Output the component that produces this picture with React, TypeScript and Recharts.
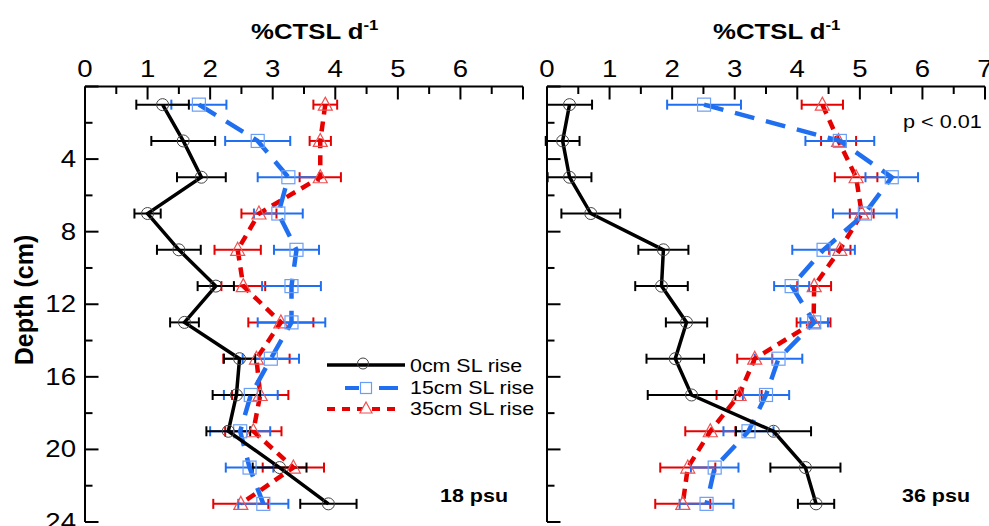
import React from "react";
import { ScatterChart, Scatter, XAxis, YAxis, ErrorBar } from "recharts";

// depth of each sample (cm), shared by both panels
const depths = [1, 3, 5, 7, 9, 11, 13, 15, 17, 19, 21, 23];

// 18 psu panel (%CTSL per day, mean and +/- error)
const s18_0cm = [1.24, 1.57, 1.86, 1.0, 1.5, 2.09, 1.59, 2.47, 2.42, 2.29, 3.11, 3.89];
const s18_0cmErr = [0.42, 0.51, 0.39, 0.21, 0.35, 0.29, 0.23, 0.25, 0.38, 0.35, 0.43, 0.45];
const s18_15cm = [1.82, 2.76, 3.25, 3.09, 3.38, 3.3, 3.3, 2.97, 2.65, 2.48, 2.63, 2.85];
const s18_15cmErr = [0.44, 0.52, 0.49, 0.39, 0.36, 0.47, 0.54, 0.45, 0.43, 0.48, 0.38, 0.4];
const s18_35cm = [3.84, 3.76, 3.76, 2.78, 2.44, 2.53, 3.13, 2.74, 2.8, 2.69, 3.33, 2.49];
const s18_35cmErr = [0.19, 0.17, 0.33, 0.28, 0.37, 0.35, 0.52, 0.53, 0.45, 0.45, 0.49, 0.44];

// 36 psu panel
const s36_0cm = [0.36, 0.25, 0.36, 0.7, 1.86, 1.83, 2.23, 2.05, 2.31, 3.62, 4.13, 4.3];
const s36_0cmErr = [0.36, 0.27, 0.35, 0.47, 0.4, 0.42, 0.33, 0.46, 0.7, 0.6, 0.56, 0.29];
const s36_15cm = [2.51, 4.68, 5.51, 5.08, 4.42, 3.91, 4.27, 3.7, 3.5, 3.22, 2.68, 2.55];
const s36_15cmErr = [0.59, 0.55, 0.42, 0.51, 0.5, 0.28, 0.22, 0.38, 0.37, 0.4, 0.38, 0.43];
const s36_35cm = [4.4, 4.66, 4.94, 5.03, 4.68, 4.27, 4.26, 3.32, 3.07, 2.61, 2.25, 2.17];
const s36_35cmErr = [0.33, 0.28, 0.34, 0.19, 0.17, 0.27, 0.27, 0.28, 0.36, 0.4, 0.44, 0.44];

const seriesNames = ["0cm SL rise", "15cm SL rise", "35cm SL rise"];
const xTicks = [0, 0.5, 1, 1.5, 2, 2.5, 3, 3.5, 4, 4.5, 5, 5.5, 6, 6.5, 7];
const yTicks = [0, 2, 4, 6, 8, 10, 12, 14, 16, 18, 20, 22, 24];

const FONT = "'Liberation Sans', Arial, Helvetica, sans-serif";
const BLUE = "#1f6ff0";
const RED = "#e60000";

const toPoints = (vals: number[], errs: number[]) =>
  vals.map((v, i) => ({ x: v, y: depths[i], err: errs[i] }));

// text drawn a little wider than the font, like the original figure
function SText({ x, y, size, anchor = "start", bold = false, sx = 1.15, children }: any) {
  return (
    <text
      transform={`translate(${x},${y}) scale(${sx},1)`}
      textAnchor={anchor}
      fontSize={size}
      fontWeight={bold ? "bold" : "normal"}
      fontFamily={FONT}
      fill="#000"
    >
      {children}
    </text>
  );
}

const makeXTick = (lastLabel: number) => (props: any) => {
  const { x, y, payload } = props;
  const v = payload.value as number;
  const major = Number.isInteger(v);
  return (
    <g>
      <line x1={x} y1={y} x2={x} y2={y + (major ? 13 : 7.5)} stroke="#000" strokeWidth={2} />
      {major && v <= lastLabel && (
        <SText x={x} y={y - 9.5} size={23} anchor="middle" sx={1.2}>
          {v}
        </SText>
      )}
    </g>
  );
};

const makeYTick = (labels: boolean) => (props: any) => {
  const { x, y, payload } = props;
  const v = payload.value as number;
  const major = v % 4 === 0;
  return (
    <g>
      <line x1={x} y1={y} x2={x + (major ? 13.5 : 7.5)} y2={y} stroke="#000" strokeWidth={2} />
      {labels && major && v > 0 && (
        <SText x={x - 9} y={y + 8} size={23} anchor="end" sx={1.2}>
          {v}
        </SText>
      )}
    </g>
  );
};

const circleShape = (p: any) => (
  <circle cx={p.cx} cy={p.cy} r={6} fill="none" stroke="#444" strokeWidth={1} />
);
const squareShape = (p: any) => (
  <rect x={p.cx - 6.5} y={p.cy - 6.5} width={13} height={13} fill="none" stroke="#6a9ef5" strokeWidth={1.2} />
);
const triangleShape = (p: any) => (
  <polygon
    points={`${p.cx},${p.cy - 7.5} ${p.cx + 7},${p.cy + 5.5} ${p.cx - 7},${p.cy + 5.5}`}
    fill="none"
    stroke="#f05050"
    strokeWidth={1.2}
  />
);

function Panel({ data0, data15, data35, margin, yLabels, lastXLabel }: any) {
  return (
    <div style={{ position: "absolute", left: 0, top: 0 }}>
      <ScatterChart width={989} height={526} margin={margin}>
        <XAxis
          type="number"
          dataKey="x"
          orientation="top"
          domain={[0, 7]}
          ticks={xTicks}
          interval={0}
          height={40}
          tickSize={0}
          tickMargin={0}
          tickLine={false}
          tick={makeXTick(lastXLabel)}
          axisLine={{ stroke: "#000", strokeWidth: 2 }}
          allowDataOverflow
        />
        <YAxis
          type="number"
          dataKey="y"
          domain={[0, 24]}
          reversed
          ticks={yTicks}
          interval={0}
          width={60}
          tickSize={0}
          tickMargin={0}
          tickLine={false}
          tick={makeYTick(yLabels)}
          axisLine={{ stroke: "#000", strokeWidth: 2 }}
          allowDataOverflow
        />
        <Scatter
          name={seriesNames[2]}
          data={data35}
          fill={RED}
          shape={triangleShape}
          line={{ stroke: RED, strokeWidth: 4.5, strokeDasharray: "10 7" }}
          isAnimationActive={false}
        >
          <ErrorBar dataKey="err" direction="x" width={5} stroke={RED} strokeWidth={2} />
        </Scatter>
        <Scatter
          name={seriesNames[1]}
          data={data15}
          fill={BLUE}
          shape={squareShape}
          line={{ stroke: BLUE, strokeWidth: 4.5, strokeDasharray: "20 12" }}
          isAnimationActive={false}
        >
          <ErrorBar dataKey="err" direction="x" width={5} stroke={BLUE} strokeWidth={2} />
        </Scatter>
        <Scatter
          name={seriesNames[0]}
          data={data0}
          fill="#000"
          shape={circleShape}
          line={{ stroke: "#000", strokeWidth: 3.5 }}
          isAnimationActive={false}
        >
          <ErrorBar dataKey="err" direction="x" width={5} stroke="#000" strokeWidth={2} />
        </Scatter>
      </ScatterChart>
    </div>
  );
}

function Overlay() {
  return (
    <svg
      width={989}
      height={526}
      style={{ position: "absolute", left: 0, top: 0, pointerEvents: "none" }}
    >
      {/* axis titles */}
      {[251, 713].map((x) => (
        <text key={x} transform={`translate(${x},38.5) scale(1.12,1)`} fontSize={23} fontWeight="bold" fontFamily={FONT}>
          %CTSL d
          <tspan dy={-9} fontSize={15}>-1</tspan>
        </text>
      ))}
      <text transform="translate(33,300) rotate(-90)" textAnchor="middle" fontSize={25} fontWeight="bold" fontFamily={FONT}>
        Depth (cm)
      </text>
      <SText x={903} y={128} size={19} sx={1.14}>p &lt; 0.01</SText>
      <SText x={440} y={502} size={19} bold sx={1.13}>18 psu</SText>
      <SText x={902} y={502} size={19} bold sx={1.13}>36 psu</SText>

      {/* legend */}
      <line x1={327} y1={365} x2={405} y2={365} stroke="#000" strokeWidth={3.5} />
      <circle cx={363} cy={363.5} r={5.5} fill="none" stroke="#444" strokeWidth={1} />
      <SText x={410} y={371.5} size={18} sx={1.19}>{seriesNames[0]}</SText>

      <line x1={345} y1={388} x2={359} y2={388} stroke={BLUE} strokeWidth={4} />
      <line x1={379} y1={388} x2={398} y2={388} stroke={BLUE} strokeWidth={4} />
      <rect x={360.5} y={382.5} width={11} height={11} fill="none" stroke="#6a9ef5" strokeWidth={1.2} />
      <SText x={410} y={393.5} size={18} sx={1.19}>{seriesNames[1]}</SText>

      <line x1={327} y1={409} x2={402} y2={409} stroke={RED} strokeWidth={4} strokeDasharray="8 7" />
      <polygon points="366,402 372,413 360,413" fill="#fff" stroke="#f05050" strokeWidth={1.2} />
      <SText x={410} y={414.5} size={18} sx={1.19}>{seriesNames[2]}</SText>
    </svg>
  );
}

export default function App() {
  return (
    <div style={{ position: "relative", width: 989, height: 526, background: "#fff", overflow: "hidden" }}>
      <style>{"body{margin:0}"}</style>
      <Panel
        data0={toPoints(s18_0cm, s18_0cmErr)}
        data15={toPoints(s18_15cm, s18_15cmErr)}
        data35={toPoints(s18_35cm, s18_35cmErr)}
        margin={{ top: 46.5, right: 466, bottom: 4, left: 25 }}
        yLabels
        lastXLabel={6}
      />
      <Panel
        data0={toPoints(s36_0cm, s36_0cmErr)}
        data15={toPoints(s36_15cm, s36_15cmErr)}
        data35={toPoints(s36_35cm, s36_35cmErr)}
        margin={{ top: 46.5, right: 4, bottom: 4, left: 487 }}
        yLabels={false}
        lastXLabel={7}
      />
      <Overlay />
    </div>
  );
}
